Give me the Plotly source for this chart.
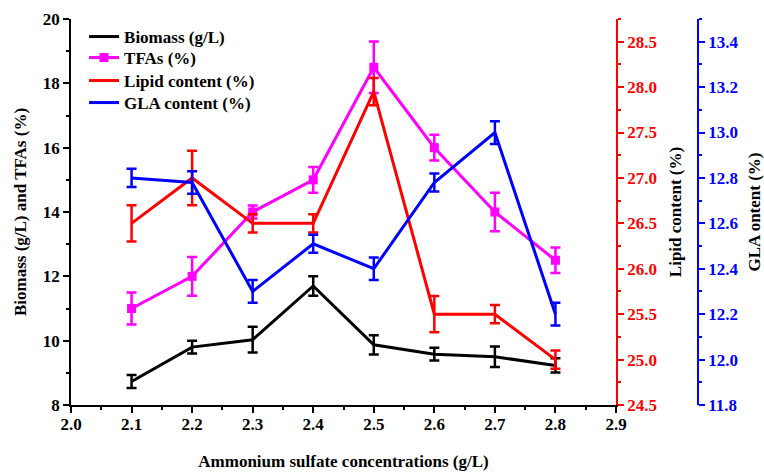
import plotly.graph_objects as go

conc = [2.1, 2.2, 2.3, 2.4, 2.5, 2.6, 2.7, 2.8]
biomass = [8.73, 9.8, 10.03, 11.7, 9.87, 9.58, 9.5, 9.23]
biomass_err = [0.2, 0.2, 0.4, 0.3, 0.3, 0.2, 0.32, 0.22]
tfas = [11.0, 12.0, 14.0, 15.0, 18.5, 16.0, 14.0, 12.5]
tfas_err = [0.5, 0.6, 0.2, 0.4, 0.8, 0.4, 0.6, 0.4]
lipid = [26.5, 27.0, 26.5, 26.5, 27.95, 25.5, 25.5, 25.0]
lipid_err = [0.2, 0.3, 0.1, 0.1, 0.15, 0.2, 0.1, 0.1]
gla = [12.8, 12.78, 12.3, 12.51, 12.4, 12.78, 13.0, 12.2]
gla_err = [0.04, 0.05, 0.05, 0.04, 0.05, 0.04, 0.05, 0.05]

FONT = "Liberation Serif"
fig = go.Figure()

def eb(arr, color):
    return dict(type="data", array=arr, visible=True, color=color, thickness=2.5, width=5)

fig.add_trace(go.Scatter(x=conc, y=biomass, name="Biomass (g/L)", mode="lines",
                         line=dict(color="black", width=3), error_y=eb(biomass_err, "black"),
                         xaxis="x", yaxis="y", legend="legend"))
fig.add_trace(go.Scatter(x=conc, y=tfas, name="TFAs (%)", mode="lines+markers",
                         line=dict(color="#ff00ff", width=3),
                         marker=dict(symbol="square", size=9, color="#ff00ff"),
                         error_y=eb(tfas_err, "#ff00ff"), xaxis="x", yaxis="y", legend="legend2"))
fig.add_trace(go.Scatter(x=conc, y=lipid, name="Lipid content (%)", mode="lines",
                         line=dict(color="#ff0000", width=3), error_y=eb(lipid_err, "#ff0000"),
                         xaxis="x", yaxis="y2", legend="legend3"))
fig.add_trace(go.Scatter(x=conc, y=gla, name="GLA content (%)", mode="lines",
                         line=dict(color="#0000ff", width=3), error_y=eb(gla_err, "#0000ff"),
                         xaxis="x", yaxis="y3", legend="legend4"))

W, H = 764, 472
L, T = 71, 19
right_plot = 616
blue_axis = 698
bottom_plot = 405
dom = (right_plot - L) / (blue_axis - L)
plot_h = bottom_plot - T
tickfont = dict(family=FONT, size=17, weight="bold")
titlefont = dict(family=FONT, size=17, weight="bold")

def leg(row_center):
    top = row_center - 17
    y = 1 - (top - T) / plot_h
    return dict(x=0.0208, y=min(y, 1.0), xanchor="left", yanchor="top",
                bgcolor="rgba(0,0,0,0)", font=dict(family=FONT, size=17, weight="bold"),
                itemwidth=30)

fig.update_layout(
    width=W, height=H,
    margin=dict(l=L, r=W - blue_axis, t=T, b=H - bottom_plot, pad=0, autoexpand=False),
    paper_bgcolor="white", plot_bgcolor="white",
    font=dict(family=FONT, size=17, color="black", weight="bold"),
    showlegend=True,
    legend=leg(35), legend2=leg(57), legend3=leg(80), legend4=leg(102),
    xaxis=dict(domain=[0, dom], range=[2.0, 2.9], dtick=0.1, tick0=2.0, tickformat=".1f",
               automargin=False,
               showgrid=False, zeroline=False, showline=True, linecolor="black", linewidth=1.5,
               ticks="outside", ticklen=6, tickwidth=1.5, tickcolor="black",
               minor=dict(ticks="outside", ticklen=3, dtick=0.05, tickcolor="black", tickwidth=1.5),
               tickfont=tickfont, ticklabelstandoff=-3,
               title=dict(text="Ammonium sulfate concentrations (g/L)", font=titlefont, standoff=22)),
    xaxis2=dict(domain=[0, dom], range=[2.0, 2.9], dtick=0.1, tick0=2.0, overlaying="x",
                automargin=False,
                side="top", anchor="y", showticklabels=False, showgrid=False, zeroline=False,
                showline=True, linecolor="black", linewidth=1.5,
                ticks="inside", ticklen=6, tickwidth=1.5, tickcolor="black",
                minor=dict(ticks="inside", ticklen=3, dtick=0.05, tickcolor="black", tickwidth=1.5)),
    yaxis=dict(range=[8, 20], dtick=2, showgrid=False, zeroline=False, showline=True,
               automargin=False,
               linecolor="black", linewidth=1.5, ticks="outside", ticklen=6, tickwidth=1.5,
               tickcolor="black",
               minor=dict(ticks="outside", ticklen=3, dtick=1, tickcolor="black", tickwidth=1.5),
               tickfont=tickfont,
               title=dict(text="Biomass (g/L) and TFAs (%)", font=titlefont, standoff=12)),
    yaxis2=dict(range=[24.5, 28.75], dtick=0.5, tick0=24.5, tickformat=".1f", overlaying="y",
                automargin=False,
                side="right", anchor="x", showgrid=False, zeroline=False, showline=True,
                linecolor="#ff0000", linewidth=1.5, ticks="outside", ticklen=6, tickwidth=1.5,
                tickcolor="#ff0000",
                minor=dict(ticks="outside", ticklen=3, dtick=0.25, tickcolor="#ff0000", tickwidth=1.5),
                tickfont=dict(family=FONT, size=17, weight="bold", color="#ff0000"),
                title=dict(text="Lipid content (%)", font=titlefont, standoff=13)),
    yaxis3=dict(range=[11.8, 13.5], dtick=0.2, tick0=11.8, tickformat=".1f", overlaying="y",
                automargin=False,
                side="right", anchor="free", position=1.0, showgrid=False, zeroline=False,
                showline=True, linecolor="#0000ff", linewidth=1.5, ticks="outside", ticklen=6,
                tickwidth=1.5, tickcolor="#0000ff",
                minor=dict(ticks="outside", ticklen=3, dtick=0.1, tickcolor="#0000ff", tickwidth=1.5),
                tickfont=dict(family=FONT, size=17, weight="bold", color="#0000ff"),
                title=dict(text="GLA ontent (%)", font=titlefont, standoff=15)),
)

fig.write_html("out.html", config={"displayModeBar": False},
               post_script="document.body.style.margin='0px';document.body.style.overflow='hidden';")
